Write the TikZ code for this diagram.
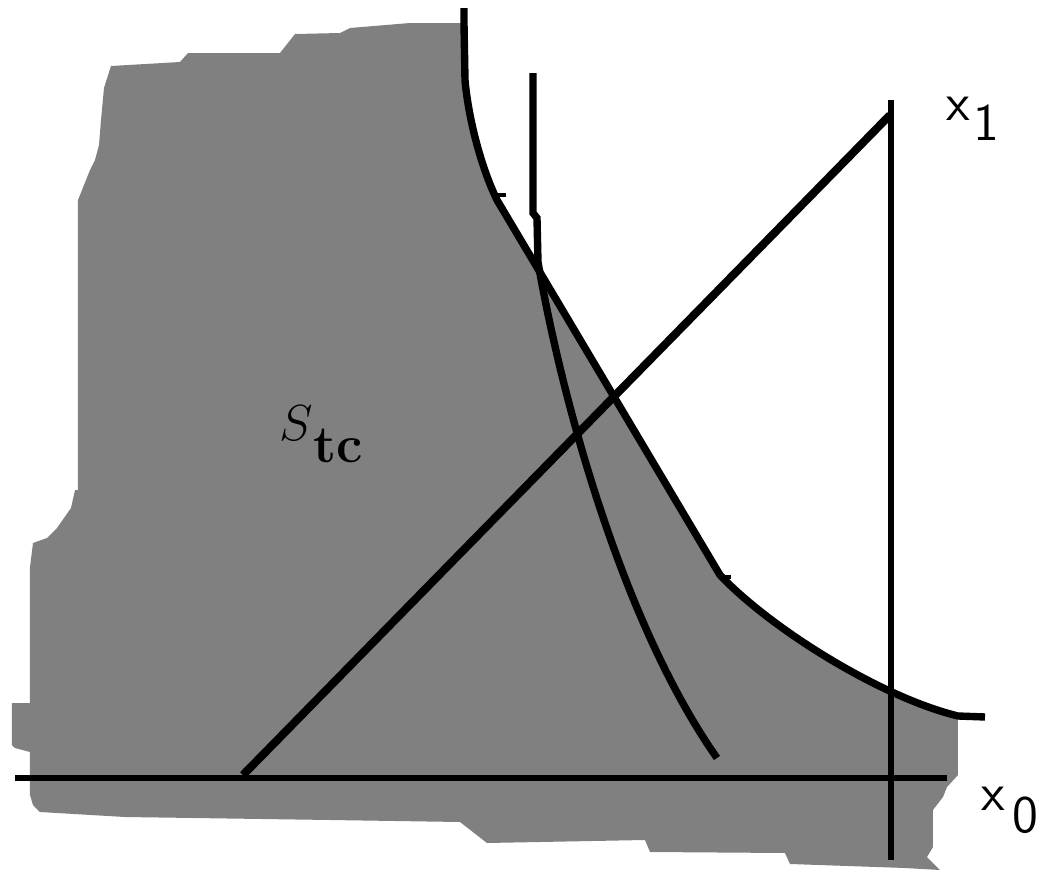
\documentclass[tikz,border=0pt]{standalone}
\usepackage{tikz}

\tikzset{region/.style={x=0.01cm,y=-0.01cm,font=\sffamily},
  bound/.style={line width=2.1pt},
  axisln/.style={line width=1.5pt},
  axlabel/.style={inner sep=0pt,anchor=base west,font=\sffamily\fontsize{15}{15}\selectfont}}

\begin{document}
\begin{tikzpicture}[region]
    \useasboundingbox (0,0) rectangle (1047,875);
    \def\frontier{(464,23) -- (465,80) .. controls (468,115) and (480,165) .. (497,200)
      -- (720,575) .. controls (770,628) and (880,697) .. (958,716)}
    % shaded set
    \fill[black!50] (111,66) -- (180,62) -- (188,53) -- (280,53) -- (295,34) -- (340,33)
      -- (350,28) -- (410,23) -- \frontier -- (958,775) -- (947,787) -- (943,797)
      -- (933,810) -- (933,847) -- (927,857) -- (940,870) -- (905,868) -- (790,864)
      -- (785,853) -- (650,852) -- (645,840) -- (487,843) -- (478,836) -- (460,822)
      -- (330,820) -- (125,817) -- (40,812) -- (33,805) -- (30,795) -- (30,752)
      -- (15,748) -- (12,745) -- (12,703) -- (30,703) -- (30,567) -- (33,543)
      -- (47,538) -- (57,528) -- (71,508) -- (75,490) -- (78,490) -- (78,200)
      -- (82,190) -- (90,170) -- (95,160) -- (99,145) -- (101,120) -- (104,88) -- cycle;
    \draw[axisln] (15,778) -- (947,778);
    \draw[axisln] (891,100) -- (891,860);
    \draw[bound] (464,8) -- \frontier -- (985,717);
    \draw[line width=1pt] (497,195) -- (506,195) (722,577) -- (731,577);
    \draw[bound] (533,73) -- (533,213) -- (537,218) -- (538,262)
      .. controls (560,390) and (620,620) .. (717,758);
    \draw[line width=2.3pt] (243,775) -- (890,115);
    \node[axlabel] (xone) at (946,120) {x\kern1pt\raisebox{-5.7pt}{1}};
    \node[axlabel] (xzero) at (981,810) {x\kern2pt\raisebox{-6.3pt}{0}};
    \node[inner sep=0pt,anchor=base west,font=\fontsize{15}{15}\selectfont] (stc) at (279,440)
      {$S$\raisebox{-6.5pt}{\textbf{tc}}};
  \end{tikzpicture}
\end{document}
